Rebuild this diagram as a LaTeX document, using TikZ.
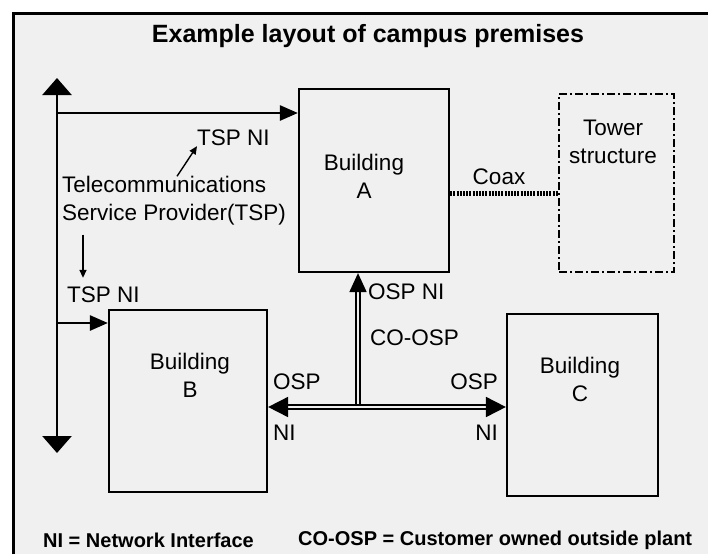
\documentclass[tikz,border=0pt]{standalone}
\usepackage{fontspec}
\setmainfont{Liberation Sans}
\usetikzlibrary{arrows.meta}
\definecolor{paper}{gray}{0.94}

\tikzset{
  bldg/.style={draw, line width=2.2pt, inner sep=0pt},
  txt/.style={font=\fontsize{22.5}{28}\selectfont, inner sep=0pt, align=center},
  legend/.style={font=\bfseries\fontsize{20}{24}\selectfont, inner sep=0pt, anchor=west},
  trunk/.style={line width=2.6pt, {Triangle[length=17pt,width=29pt]}-{Triangle[length=17pt,width=29pt]}},
  feed/.style={line width=2.6pt, -{Triangle[length=18pt,width=15pt]}},
  small/.style={line width=1.4pt, -{Triangle[length=8pt,width=7pt]}},
  coosp/.style={line width=1.8pt, double=paper, double distance=1.8pt},
  coax/.style={line width=5pt, dash pattern=on 2pt off 1.2pt}
}

\begin{document}
\begin{tikzpicture}[x=1pt, y=-1pt]
\useasboundingbox (0,0) rectangle (708,554);
% frame
\fill[paper] (13,13) rectangle (708,554);
\draw[line width=3pt] (13,554) -- (13,13) -- (708,13);

\node[font=\bfseries\fontsize{25}{30}\selectfont, inner sep=0pt] (title) at (368,36) {Example layout of campus premises};

% buildings
\node[bldg, minimum width=150pt, minimum height=183pt] (A) at (374,180.5) {};
\node[bldg, minimum width=158pt, minimum height=182pt] (B) at (188,401) {};
\node[bldg, minimum width=151pt, minimum height=182pt] (C) at (582.5,405) {};
\node[draw, line width=1.8pt, dash pattern=on 8pt off 3pt on 2pt off 3pt, inner sep=0pt, minimum width=115pt, minimum height=178pt] (tower) at (616.5,183) {};

\node[txt] at (364,176) {Building\\A};
\node[txt] at (190,375) {Building\\B};
\node[txt] at (580,379) {Building\\C};
\node[txt] at (613,142) {Tower\\structure};

% service provider
\node[txt, anchor=west, align=left] (tsp) at (62,201) {Telecommunications\\Service Provider(TSP)};
\node[txt, anchor=west] (niA) at (197,138) {TSP NI};
\node[txt, anchor=west] (niB) at (67,295) {TSP NI};

\coordinate (top) at (57,78);
\coordinate (bot) at (57,453);
\coordinate (tapA) at (57,113);
\coordinate (tapB) at (57,323);
\draw[trunk] (top) -- (bot);
\draw[feed] (tapA) -- (tapA -| A.west);
\draw[feed] (tapB) -- (tapB -| B.west);
\draw[small] ([xshift=115pt]tsp.north west) -- (niA.south west);
\draw[small, shorten <=9pt, shorten >=9pt] ([xshift=21pt]tsp.south west) -- ([xshift=16pt]niB.north west);

% coax
\draw[coax] ([yshift=-12.5pt]A.east) -- ([yshift=-10pt]tower.west);
\node[txt] (coaxlbl) at (499,177) {Coax};

% customer owned outside plant
\coordinate (jct) at (358,407);
\draw[coosp, -{Triangle[length=19pt,width=17pt]}] (jct) -- (jct |- A.south);
\draw[coosp, {Triangle[length=20pt,width=20pt]}-{Triangle[length=20pt,width=20pt]}] (jct -| B.east) -- (jct -| C.west);

\node[txt, anchor=west] at (368,292) {OSP NI};
\node[txt, anchor=west] at (370,338) {CO-OSP};
\node[txt, anchor=west] at (273,382) {OSP};
\node[txt, anchor=west] at (273,433) {NI};
\node[txt, anchor=east] at (498,382) {OSP};
\node[txt, anchor=east] at (498,433) {NI};

% legend
\node[legend] (leg1) at (43,540) {NI = Network Interface};
\node[legend] (leg2) at (298,540) {CO-OSP = Customer owned outside plant};
\end{tikzpicture}
\end{document}
